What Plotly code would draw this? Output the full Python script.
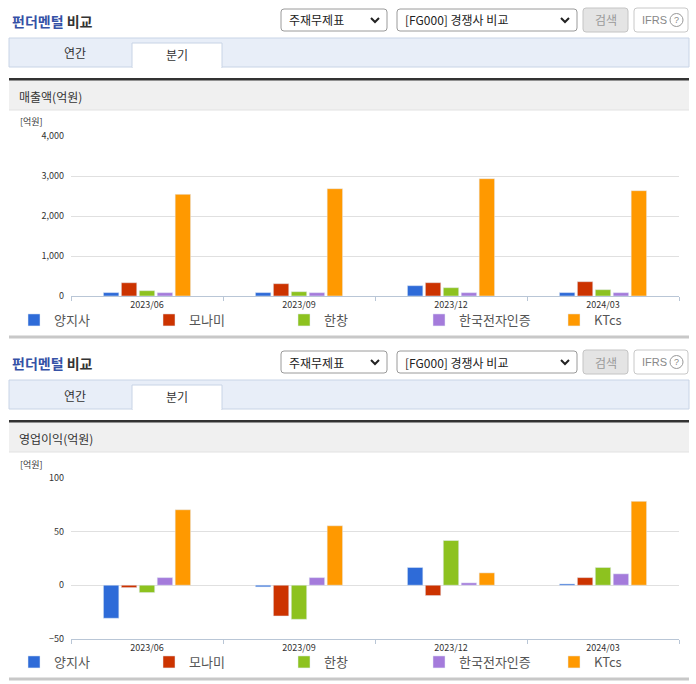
import plotly.graph_objects as go

# 분기 데이터 (억원)
quarters = ['2023/06', '2023/09', '2023/12', '2024/03']
companies = ['양지사', '모나미', '한창', '한국전자인증', 'KTcs']
colors = ['#2e6bd8', '#cc3300', '#8dc21f', '#a47bdb', '#ff9900']

sales_yangjisa = [85, 85, 258, 85]
sales_monami = [332, 308, 333, 358]
sales_hanchang = [133, 108, 208, 158]
sales_kec = [83, 83, 83, 83]
sales_ktcs = [2542, 2683, 2933, 2633]

op_yangjisa = [-30.7, -1.5, 16.5, 1.2]
op_monami = [-2.2, -28.6, -9.6, 7.1]
op_hanchang = [-6.8, -31.7, 41.6, 16.5]
op_kec = [7.1, 7.1, 2.2, 10.6]
op_ktcs = [70.2, 55.3, 11.5, 78.0]

sales = [sales_yangjisa, sales_monami, sales_hanchang, sales_kec, sales_ktcs]
op_profit = [op_yangjisa, op_monami, op_hanchang, op_kec, op_ktcs]

W, H = 696, 684
FONT = 'Noto Sans CJK KR, Noto Sans, sans-serif'


def px(x):
    return x / W


def py(y):
    return 1 - y / H


def rrect(x0, y0, x1, y1, r=3):
    # rounded rectangle path in paper coords, given pixel coords
    rx, ry = r / W, r / H
    a, b, c, d = px(x0), py(y0), px(x1), py(y1)
    return (f'M{a + rx},{b} L{c - rx},{b} Q{c},{b} {c},{b - ry} '
            f'L{c},{d + ry} Q{c},{d} {c - rx},{d} L{a + rx},{d} '
            f'Q{a},{d} {a},{d + ry} L{a},{b - ry} Q{a},{b} {a + rx},{b} Z')


fig = go.Figure()

for name, col, vals in zip(companies, colors, sales):
    fig.add_trace(go.Bar(x=quarters, y=vals, name=name, marker_color=col,
                         xaxis='x', yaxis='y', legend='legend'))
for name, col, vals in zip(companies, colors, op_profit):
    fig.add_trace(go.Bar(x=quarters, y=vals, name=name, marker_color=col,
                         xaxis='x2', yaxis='y2', legend='legend2'))

shapes = []
annotations = []


def panel(off, label):
    # header: title, dropdowns, buttons
    annotations.append(dict(x=px(10), y=py(21 + off), xref='paper', yref='paper',
                            text="<b><span style='color:#3551a6'>펀더멘털</span> 비교</b>",
                            showarrow=False, xanchor='left', yanchor='middle',
                            font=dict(size=14, color='#333', family=FONT)))
    for x0, x1, txt in [(281, 387, '주재무제표'), (397, 577, '[FG000] 경쟁사 비교')]:
        shapes.append(dict(type='path', path=rrect(x0, 9 + off, x1, 31 + off),
                           xref='paper', yref='paper', fillcolor='white',
                           line=dict(color='#9a9a9a', width=1)))
        annotations.append(dict(x=px(x0 + 6), y=py(20 + off), xref='paper', yref='paper',
                                text=txt, showarrow=False, xanchor='left', yanchor='middle',
                                font=dict(size=12, color='#222', family=FONT)))
        cx = x1 - 12
        shapes.append(dict(type='path',
                           path=f'M{px(cx - 4)},{py(18 + off)} L{px(cx)},{py(22 + off)} L{px(cx + 4)},{py(18 + off)}',
                           xref='paper', yref='paper', line=dict(color='#222', width=2)))
    shapes.append(dict(type='path', path=rrect(583, 8 + off, 628, 32 + off),
                       xref='paper', yref='paper', fillcolor='#e4e4e4',
                       line=dict(color='#c4c4c4', width=1)))
    annotations.append(dict(x=px(605.5), y=py(20 + off), xref='paper', yref='paper',
                            text='검색', showarrow=False, xanchor='center', yanchor='middle',
                            font=dict(size=12, color='#9a9a9a', family=FONT)))
    shapes.append(dict(type='path', path=rrect(634, 8 + off, 688, 32 + off),
                       xref='paper', yref='paper', fillcolor='white',
                       line=dict(color='#c8c8c8', width=1)))
    annotations.append(dict(x=px(640), y=py(20 + off), xref='paper', yref='paper',
                            text='IFRS', showarrow=False, xanchor='left', yanchor='middle',
                            font=dict(size=11, color='#888', family='Liberation Sans')))
    shapes.append(dict(type='circle', xref='paper', yref='paper',
                       x0=px(670), x1=px(683), y0=py(26.5 + off), y1=py(13.5 + off),
                       line=dict(color='#999', width=1), fillcolor='white'))
    annotations.append(dict(x=px(676.5), y=py(20 + off), xref='paper', yref='paper',
                            text='?', showarrow=False, xanchor='center', yanchor='middle',
                            font=dict(size=9, color='#888', family='Liberation Sans')))
    # tab bar
    shapes.append(dict(type='rect', xref='paper', yref='paper',
                       x0=px(9), x1=px(689), y0=py(67 + off), y1=py(38 + off),
                       fillcolor='#e8eef8', line=dict(color='#c8d4e6', width=1)))
    shapes.append(dict(type='rect', xref='paper', yref='paper',
                       x0=px(132), x1=px(222), y0=py(67.5 + off), y1=py(43 + off),
                       fillcolor='white', line=dict(color='#c8d4e6', width=1)))
    shapes.append(dict(type='line', xref='paper', yref='paper',
                       x0=px(132.6), x1=px(221.4), y0=py(67.5 + off), y1=py(67.5 + off),
                       line=dict(color='white', width=2)))
    annotations.append(dict(x=px(75), y=py(53 + off), xref='paper', yref='paper',
                            text='연간', showarrow=False, xanchor='center', yanchor='middle',
                            font=dict(size=12, color='#333', family=FONT)))
    annotations.append(dict(x=px(177), y=py(55 + off), xref='paper', yref='paper',
                            text='분기', showarrow=False, xanchor='center', yanchor='middle',
                            font=dict(size=12, color='#333', family=FONT)))
    # section band
    shapes.append(dict(type='rect', xref='paper', yref='paper',
                       x0=px(9), x1=px(689), y0=py(110 + off), y1=py(80 + off),
                       fillcolor='#f0f0f0', line=dict(width=0)))
    shapes.append(dict(type='line', xref='paper', yref='paper',
                       x0=px(9), x1=px(689), y0=py(110 + off), y1=py(110 + off),
                       line=dict(color='#e2e2e2', width=1)))
    shapes.append(dict(type='rect', xref='paper', yref='paper',
                       x0=px(9), x1=px(689), y0=py(80.5 + off), y1=py(78 + off),
                       fillcolor='#333', line=dict(width=0)))
    annotations.append(dict(x=px(17), y=py(96 + off), xref='paper', yref='paper',
                            text=label, showarrow=False, xanchor='left', yanchor='middle',
                            font=dict(size=12, color='#333', family=FONT)))
    annotations.append(dict(x=px(18), y=py(122 + off), xref='paper', yref='paper',
                            text='[억원]', showarrow=False, xanchor='left', yanchor='middle',
                            font=dict(size=9, color='#333', family=FONT)))
    # bottom rule
    shapes.append(dict(type='rect', xref='paper', yref='paper',
                       x0=px(9), x1=px(689), y0=py(338.5 + off), y1=py(335.5 + off),
                       fillcolor='#c8c8c8', line=dict(width=0)))


panel(0, '매출액(억원)')
panel(342, '영업이익(억원)')

xcommon = dict(type='category', domain=[px(71), px(679)], showgrid=False,
               showline=True, linecolor='#b9c6d6', linewidth=1, automargin=False,
               ticks='outside', ticklen=4, tickcolor='#b9c6d6', tickson='boundaries',
               tickfont=dict(size=9, color='#333', family=FONT), fixedrange=True)
ycommon = dict(showgrid=True, gridcolor='#e0e0e0', gridwidth=1, zeroline=False,
               showline=False, tickformat=',', ticks='', ticklabelstandoff=6,
               automargin=False,
               tickfont=dict(size=9, color='#333', family=FONT), fixedrange=True)

legcommon = dict(orientation='h', xanchor='left', yanchor='middle', x=px(14),
                 entrywidth=90, entrywidthmode='pixels', itemwidth=30,
                 bgcolor='rgba(0,0,0,0)', traceorder='normal',
                 font=dict(size=13, color='#555', family=FONT))

fig.update_layout(
    width=W, height=H, autosize=False,
    margin=dict(l=0, r=0, t=0, b=0, pad=0, autoexpand=False),
    paper_bgcolor='white', plot_bgcolor='white',
    barmode='group', bargap=0.41, bargroupgap=0.14,
    xaxis=dict(**xcommon, anchor='y'),
    yaxis=dict(**ycommon, anchor='x', domain=[py(296), py(136)],
               range=[0, 4000], dtick=1000),
    xaxis2=dict(**xcommon, anchor='y2'),
    yaxis2=dict(**ycommon, anchor='x2', domain=[py(639), py(477.7)],
                range=[-50, 100], dtick=50),
    legend=dict(**legcommon, y=py(320)),
    legend2=dict(**legcommon, y=py(662)),
    shapes=shapes,
    annotations=annotations,
    font=dict(family=FONT),
    hovermode=False,
)

# page body has a default 8px margin; remove it so the figure fills the window
fig.write_html('out.html', config={'displayModeBar': False},
               post_script="document.body.style.margin='0';")
